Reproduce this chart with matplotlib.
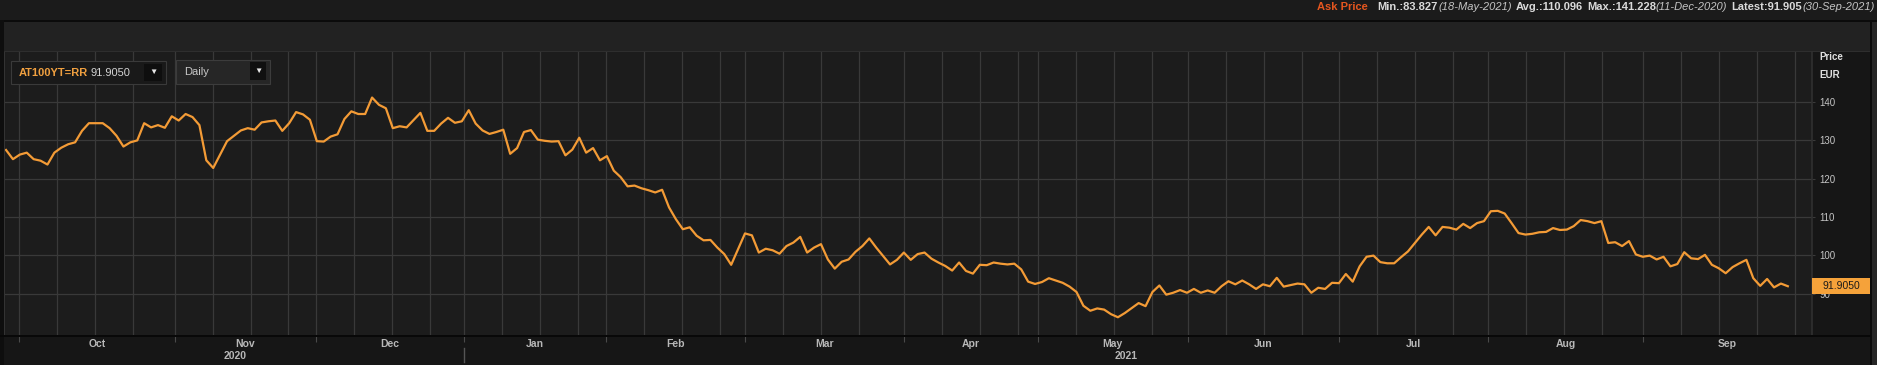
import matplotlib
matplotlib.use("Agg")
import matplotlib.pyplot as plt
import matplotlib.transforms as mtransforms
from matplotlib.patches import Rectangle

plt.rcParams['font.family'] = ['Liberation Sans', 'DejaVu Sans']

# daily ask price, one value per trading day (29-Sep-2020 .. 30-Sep-2021)
ask_price = [
    127.5, 125.1, 126.3, 126.8, 125.1, 124.7, 123.7, 126.8, 128.1, 129.0,
    129.5, 132.5, 134.5, 134.5, 134.5, 133.2, 131.2, 128.4, 129.5, 130.0,
    134.5, 133.4, 134.0, 133.3, 136.3, 135.2, 136.9, 136.1, 134.0, 124.8,
    122.8, 126.3, 129.8, 131.2, 132.6, 133.2, 132.8, 134.7, 135.0, 135.2,
    132.5, 134.5, 137.4, 136.8, 135.4, 129.8, 129.7, 131.0, 131.6, 135.6,
    137.6, 136.9, 136.9, 141.2, 139.3, 138.4, 133.2, 133.7, 133.4, 135.3,
    137.2, 132.5, 132.5, 134.4, 135.9,
    134.6, 135.0, 137.9, 134.4, 132.6, 131.7, 132.2, 132.8, 126.5, 128.0,
    132.2, 132.7, 130.2, 129.9, 129.7, 129.8, 126.1, 127.6, 130.7, 126.8,
    128.0, 124.8, 125.9, 122.1, 120.4, 118.0, 118.2, 117.5, 117.0, 116.4,
    117.1, 112.5, 109.4, 106.8, 107.3, 105.1, 103.9, 104.0, 102.0, 100.3,
    97.5, 101.6, 105.7, 105.2, 100.7, 101.7, 101.3, 100.4, 102.4, 103.3,
    104.8, 100.7, 102.0, 102.9, 98.9, 96.5, 98.3, 98.9, 100.9, 102.4,
    104.4, 102.0, 99.8, 97.6,
    98.8, 100.7, 98.8, 100.3, 100.7, 99.1, 98.1, 97.2, 96.0, 98.1,
    95.9, 95.2, 97.5, 97.4, 98.1, 97.8, 97.6, 97.8, 96.3, 93.1,
    92.5, 93.0, 94.0, 93.4, 92.8, 91.8, 90.4, 86.8, 85.5, 86.1,
    85.8, 84.6, 83.8, 84.9, 86.2, 87.5, 86.7, 90.4, 92.1, 89.7,
    90.2, 90.9, 90.2, 91.2, 90.2, 90.8, 90.2, 91.9, 93.2, 92.4,
    93.4, 92.4, 91.2, 92.4, 91.9, 94.1, 91.8, 92.2, 92.6, 92.4,
    90.2, 91.5, 91.2, 92.8,
    92.7, 95.1, 93.1, 97.1, 99.6, 99.9, 98.2, 97.9, 97.9, 99.5,
    101.0, 103.2, 105.4, 107.4, 105.2, 107.4, 107.2, 106.7, 108.2, 107.1,
    108.4, 108.9, 111.5, 111.6, 110.9, 108.4, 105.8, 105.4, 105.6, 106.0,
    106.1, 107.1, 106.6, 106.7, 107.6, 109.2, 108.9, 108.4, 108.9, 103.2,
    103.4, 102.4, 103.7, 100.2, 99.6, 99.9, 98.9, 99.6, 97.1, 97.7,
    100.8, 99.2, 99.0, 100.1, 97.5, 96.6, 95.3, 96.9, 97.9, 98.8,
    94.0, 92.0, 93.8, 91.6, 92.6, 91.905,
]

month_labels = ['Oct', 'Nov', 'Dec', 'Jan', 'Feb', 'Mar',
                'Apr', 'May', 'Jun', 'Jul', 'Aug', 'Sep']
# trading-day position of each month start
month_starts = [1.9, 24.4, 44.9, 66.3, 86.9, 107.0,
                130.0, 149.4, 171.1, 193.0, 214.6, 237.0]
axis_end = 261.5
year_labels = ['2020', '2021']
year_bounds = [0, 66.3, len(ask_price) - 1]
price_ticks = [90, 100, 110, 120, 130, 140]

ric = 'AT100YT=RR'
interval = 'Daily'
stats = [
    ('Ask Price', 'title'),
    ('Min.:83.827', 'bold'), ('(18-May-2021)', 'italic'),
    ('Avg.:110.096', 'bold'),
    ('Max.:141.228', 'bold'), ('(11-Dec-2020)', 'italic'),
    ('Latest:91.905', 'bold'), ('(30-Sep-2021)', 'italic'),
]

W, H = 1877, 365
ORANGE = '#f39b36'
GRID = '#393939'

fig = plt.figure(figsize=(W / 100, H / 100), dpi=100)
fig.patch.set_facecolor('#161616')


def px_rect(x0, y0, x1, y1, fc, ec='none', lw=0, z=-1):
    r = Rectangle((x0 / W, 1 - y1 / H), (x1 - x0) / W, (y1 - y0) / H,
                  transform=fig.transFigure, fc=fc, ec=ec, lw=lw, zorder=z)
    fig.patches.append(r)
    return r


def px_text(x, y, s, **kw):
    return fig.text(x / W, 1 - y / H, s, **kw)


# frame pieces (behind the axes)
px_rect(0, 0, W, 20, '#1b1b1b')
px_rect(0, 20, W, 22, '#0b0b0b')
px_rect(0, 22, W, 52, '#222222')
px_rect(0, 51, 1871, 52, '#2e2e2e')
px_rect(1812, 52, 1871, 336, '#161616')
px_rect(1870, 22, W, H, '#262626')
px_rect(1870, 22, 1871.5, H, '#0a0a0a')
px_rect(0, 20, 3.5, H, '#0e0e0e')
px_rect(3.5, 52, 4.5, 336, '#333333')
px_rect(0, 335, 1871, 337, '#080808', z=3)

# plot area
ax = fig.add_axes([5 / W, (H - 336) / H, (1812 - 5) / W, (336 - 52) / H])
ax.set_facecolor('#1c1c1c')
ax.set_xlim(-0.15, axis_end)
ax.set_ylim(78.9, 153.1)
for s in ax.spines.values():
    s.set_visible(False)
ax.axvline(axis_end, color='#303030', lw=1.2, clip_on=False)

for p in price_ticks:
    ax.axhline(p, color=GRID, lw=0.9, zorder=1)
bounds = month_starts + [axis_end]
for s, e in zip(bounds[:-1], bounds[1:]):
    g = s
    while g < e - 1.5:
        ax.axvline(g, color=GRID, lw=0.9, zorder=1)
        g += 5.5

ax.plot(range(len(ask_price)), ask_price, color=ORANGE, lw=1.6,
        solid_joinstyle='round', zorder=3)

# y axis on the right
ax.yaxis.tick_right()
ax.set_yticks(price_ticks)
ax.set_yticklabels([str(p) for p in price_ticks])
ax.tick_params(axis='y', length=2.5, width=0.8, color='#3a3a3a', pad=3,
               labelsize=7, labelcolor='#c4c4c4')
px_text(1819, 57, 'Price', fontsize=7, fontweight='bold', color='#e0e0e0',
        va='center', ha='left')
px_text(1819, 75, 'EUR', fontsize=7, fontweight='bold', color='#e0e0e0',
        va='center', ha='left')

# x axis: month boundary ticks, labels centred inside each month
ax.set_xticks(month_starts)
ax.set_xticklabels([''] * len(month_starts))
ax.tick_params(axis='x', length=4, width=0.8, color='#4a4a4a', pad=0)
xtr = ax.get_xaxis_transform()
for i, lab in enumerate(month_labels):
    c = (bounds[i] + bounds[i + 1]) / 2
    ax.text(c, -0.027, lab, transform=xtr, ha='center', va='center',
            fontsize=7.5, fontweight='bold', color='#b8b8b8', clip_on=False)
for i, lab in enumerate(year_labels):
    c = (year_bounds[i] + year_bounds[i + 1]) / 2
    ax.text(c, -0.069, lab, transform=xtr, ha='center', va='center',
            fontsize=7.5, fontweight='bold', color='#b8b8b8', clip_on=False)
ax.plot([year_bounds[1]] * 2, [-0.042, -0.09], transform=xtr, color='#555555',
        lw=1, clip_on=False)

# last value tag
last = ask_price[-1]
ppu = (336 - 52) / (153.1 - 78.9)
tag_tr = mtransforms.blended_transform_factory(ax.transAxes, ax.transData)
tag_w = (1870 - 1812) / (1812 - 5)
ax.add_patch(Rectangle((1.0, last - 8 / ppu), tag_w, 16 / ppu, transform=tag_tr,
                       fc='#f5a23a', ec='none', clip_on=False, zorder=5))
ax.text(1.0 + tag_w / 2, last, f'{last:.4f}', transform=tag_tr, ha='center',
        va='center', fontsize=7.5, color='#1a1a1a', clip_on=False, zorder=6)

# instrument / interval boxes (above the axes)
px_rect(11, 61, 166, 84, '#191919', ec='#3a3a3a', lw=0.8, z=2)
px_rect(144, 64, 162, 81, '#0e0e0e', z=2.1)
px_text(153, 72.5, '\u25bc', fontsize=6, color='#e6e6e6', ha='center',
        va='center', zorder=3)
t = px_text(19, 72.7, ric, fontsize=8, fontweight='bold', color='#f0a040',
            va='center', ha='left', zorder=3)
fig.canvas.draw()
r = fig.canvas.get_renderer()
bb = t.get_window_extent(r)
px_text(bb.x1 + 2, 72.7, f'{last:.4f}', fontsize=8, color='#d4d4d4',
        va='center', ha='left', zorder=3)

px_rect(176, 59.5, 270, 83.5, '#262626', ec='#3c3c3c', lw=0.8, z=2)
px_rect(250, 62, 266, 80, '#101010', z=2.1)
px_text(258, 71, '\u25bc', fontsize=6, color='#e6e6e6', ha='center',
        va='center', zorder=3)
px_text(184, 72, interval, fontsize=8, color='#c8c8c8', va='center',
        ha='left', zorder=3)

# header statistics
styles = {
    'title': dict(fontweight='bold', color='#e5561f'),
    'bold': dict(fontweight='bold', color='#dadada'),
    'italic': dict(fontstyle='italic', color='#c4c4c4'),
}
x = 1317
prev = None
for s, kind in stats:
    if prev is not None:
        x += 10 if prev == 'title' else (0 if kind == 'italic' else 4)
    tt = px_text(x, 9.5, s, fontsize=8, va='baseline', ha='left', **styles[kind])
    x += tt.get_window_extent(r).width
    prev = kind

fig.savefig('out.png', dpi=100, facecolor=fig.get_facecolor())
